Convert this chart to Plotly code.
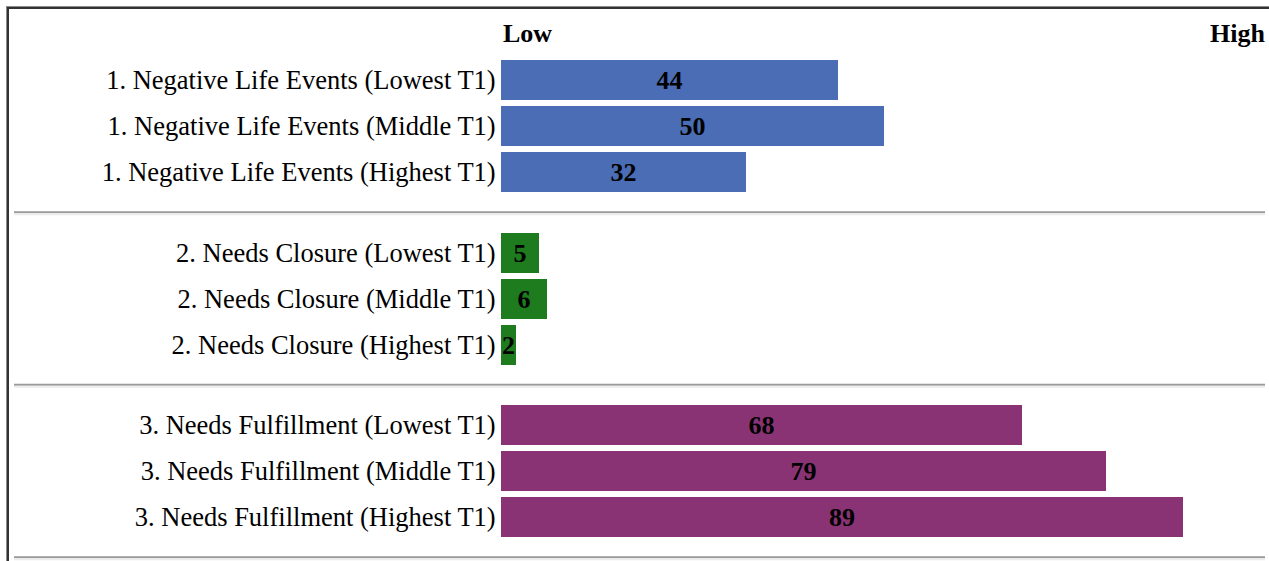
import plotly.graph_objects as go

W, H = 1269, 561

groups = ["1. Negative Life Events", "2. Needs Closure", "3. Needs Fulfillment"]
levels = ["Lowest T1", "Middle T1", "Highest T1"]
values = [
    [44, 50, 32],
    [5, 6, 2],
    [68, 79, 89],
]
colors = ["#4a6db5", "#1e7b1e", "#8a3374"]
header_low = "Low"
header_high = "High"

FONT = "Liberation Serif, Times New Roman, serif"

# layout geometry (pixels)
x0_px, x1_px = 501, 1267
pitch = 46.0
first_center = 80.0
group_step = 3 + 34.5 / pitch
bar_w = 40 / pitch

fig = go.Figure()
tickvals, ticktext = [], []
for g, (name, vals, col) in enumerate(zip(groups, values, colors)):
    ys = [g * group_step + i for i in range(len(vals))]
    labels = [f"{name} ({lv})" for lv in levels]
    tickvals += ys
    ticktext += labels
    fig.add_trace(go.Bar(
        x=vals, y=ys, orientation="h", width=bar_w,
        marker=dict(color=col, line=dict(width=0)),
        text=[str(v) for v in vals], textposition="inside",
        insidetextanchor="middle",
        textfont=dict(family=FONT, size=26, color="black", weight="bold"),
        hoverinfo="skip", showlegend=False,
    ))

y_top = -first_center / pitch
y_bot = (H - first_center) / pitch

fig.update_layout(
    width=W, height=H,
    margin=dict(l=0, r=0, t=0, b=0),
    paper_bgcolor="white", plot_bgcolor="white",
    bargap=0,
    uniformtext=dict(minsize=26, mode="show"),
    xaxis=dict(domain=[x0_px / W, x1_px / W], range=[0, 100],
               showgrid=False, zeroline=False, showticklabels=False,
               showline=False, fixedrange=True),
    yaxis=dict(range=[y_bot, y_top], tickvals=tickvals, ticktext=ticktext,
               showgrid=False, zeroline=False, showline=False,
               ticks="outside", ticklen=4, tickcolor="rgba(0,0,0,0)",
               ticklabelstandoff=-5,
               tickfont=dict(family=FONT, size=26.5, color="black")),
)

def px_x(p):
    return p / W

def px_y(p):
    return 1 - p / H

shapes = []
# frame (inset table border)
shapes.append(dict(type="line", xref="paper", yref="paper", x0=px_x(6.5), x1=px_x(6.5),
                   y0=px_y(6), y1=px_y(H), line=dict(color="#8a8a8a", width=1)))
shapes.append(dict(type="line", xref="paper", yref="paper", x0=px_x(8), x1=px_x(8),
                   y0=px_y(7), y1=px_y(H), line=dict(color="#333333", width=2)))
shapes.append(dict(type="line", xref="paper", yref="paper", x0=px_x(6), x1=px_x(W),
                   y0=px_y(6.5), y1=px_y(6.5), line=dict(color="#8a8a8a", width=1)))
shapes.append(dict(type="line", xref="paper", yref="paper", x0=px_x(7), x1=px_x(W),
                   y0=px_y(8), y1=px_y(8), line=dict(color="#333333", width=2)))

# separators after each group
for g in range(len(groups)):
    last = g * group_step + len(values[g]) - 1
    if g < len(groups) - 1:
        sep = (last + (g + 1) * group_step) / 2
    else:
        sep = last + (group_step - 2) / 2
    sep_px = first_center + sep * pitch
    shapes.append(dict(type="line", xref="paper", yref="paper", x0=px_x(14), x1=px_x(1265),
                       y0=px_y(sep_px), y1=px_y(sep_px), line=dict(color="#9a9a9a", width=2)))
    shapes.append(dict(type="line", xref="paper", yref="paper", x0=px_x(14), x1=px_x(1265),
                       y0=px_y(sep_px + 2), y1=px_y(sep_px + 2), line=dict(color="#ececec", width=2)))
fig.update_layout(shapes=shapes)

fig.add_annotation(x=0, xref="x", y=px_y(33), yref="paper", text=header_low,
                   showarrow=False, xanchor="left", yanchor="middle",
                   font=dict(family=FONT, size=26, color="black", weight="bold"))
fig.add_annotation(x=px_x(1267), xref="paper", y=px_y(33), yref="paper", text=header_high,
                   showarrow=False, xanchor="right", yanchor="middle",
                   font=dict(family=FONT, size=26, color="black", weight="bold"))

fig.write_html("out.html")
